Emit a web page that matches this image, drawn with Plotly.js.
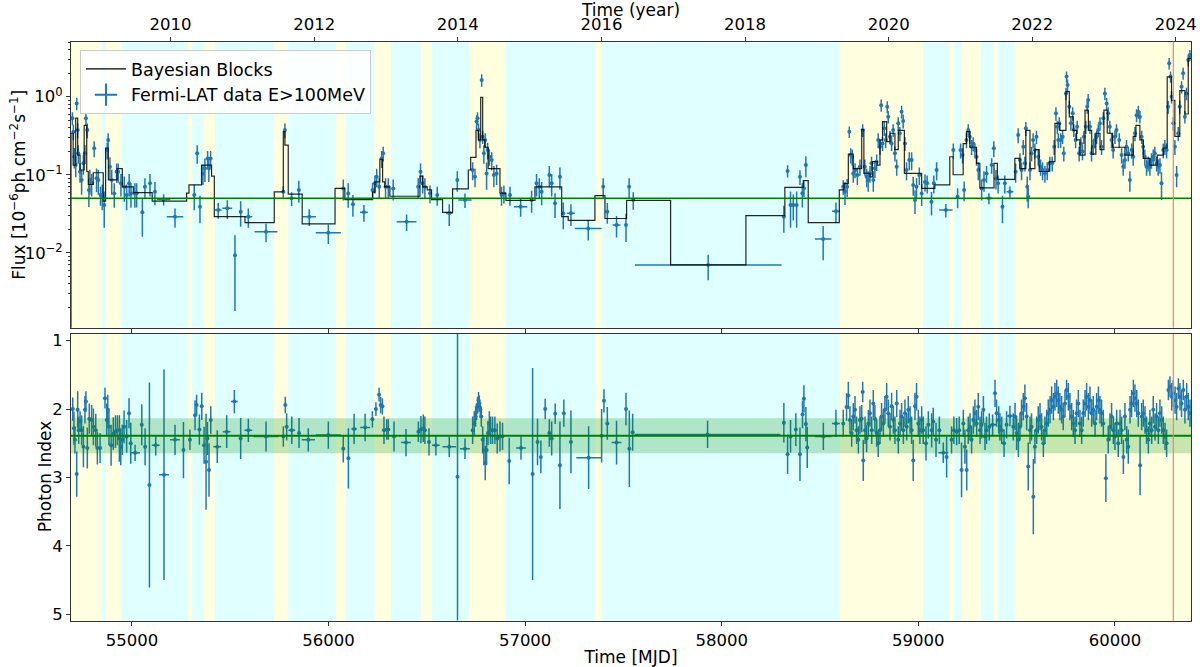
<!DOCTYPE html>
<html>
<head>
<meta charset="utf-8">
<script src="https://cdn.plot.ly/plotly-3.0.1.min.js"></script>
<style>
  html, body { margin: 0; padding: 0; background: #fff; }
  #lightcurve { width: 1200px; height: 667px; }
</style>
</head>
<body>
<div id="lightcurve"></div>
<script>
// adaptive-binned flux points (MJD, 1e-6 ph cm^-2 s^-1)
const fluxMjd = [
  54697, 54702, 54707, 54714, 54719, 54724, 54727, 54736, 54744, 54753,
  54761, 54766, 54773, 54781, 54786, 54795, 54808, 54820, 54829, 54840,
  54849, 54859, 54874, 54879, 54888, 54897, 54910, 54922, 54930, 54944,
  54961, 54973, 54986, 54995, 55015, 55024, 55053, 55066, 55092, 55117,
  55161, 55219, 55317, 55332, 55346, 55361, 55371, 55385, 55391, 55400,
  55439, 55485, 55524, 55553, 55592, 55682, 55770, 55778, 55812, 55849,
  55902, 55999, 56075, 56100, 56124, 56180, 56224, 56236, 56245, 56258,
  56270, 56278, 56290, 56304, 56329, 56397, 56456, 56468, 56479, 56490,
  56516, 56553, 56614, 56655, 56694, 56733, 56745, 56753, 56758, 56763,
  56770, 56779, 56784, 56790, 56797, 56804, 56809, 56818, 56830, 56841,
  56855, 56880, 56892, 56923, 56977, 57033, 57058, 57072, 57084, 57123,
  57135, 57152, 57177, 57194, 57233, 57321, 57397, 57418, 57465, 57513,
  57529, 57550, 57931, 58316, 58335, 58350, 58364, 58381, 58398, 58410,
  58418, 58428, 58516, 58581, 59140, 59359, 59466
];
const flux = [
  0.53, 0.356, 0.17, 0.133, 0.82, 0.374, 0.188, 0.109, 0.0855, 0.14,
  0.188, 0.53, 0.374, 0.0637, 0.0855, 0.0776, 0.218, 0.09, 0.0855, 0.055,
  0.055, 0.041, 0.207, 0.279, 0.127, 0.0855, 0.0577, 0.109, 0.109, 0.0776,
  0.07, 0.055, 0.0776, 0.0577, 0.0577, 0.058, 0.033, 0.07, 0.0776, 0.0606,
  0.0483, 0.029, 0.055, 0.188, 0.0389, 0.104, 0.121, 0.162, 0.121, 0.162,
  0.0353, 0.0371, 0.0093, 0.0336, 0.029, 0.0186, 0.0606, 0.374, 0.0498, 0.0637,
  0.029, 0.018, 0.0667, 0.0577, 0.042, 0.033, 0.0637, 0.0776, 0.094, 0.07,
  0.162, 0.188, 0.07, 0.07, 0.0667, 0.025, 0.07, 0.109, 0.0776, 0.07,
  0.058, 0.055, 0.032, 0.0855, 0.0475, 0.115, 0.094, 0.48, 0.53, 0.374,
  0.279, 1.64, 0.307, 0.188, 0.279, 0.104, 0.207, 0.17, 0.154, 0.099,
  0.104, 0.055, 0.0577, 0.055, 0.0389, 0.0475, 0.0776, 0.07, 0.0606, 0.099,
  0.0776, 0.043, 0.094, 0.032, 0.032, 0.0204, 0.07, 0.0336, 0.0227, 0.0227,
  0.07, 0.0475, 0.00695, 0.029, 0.112, 0.041, 0.041, 0.041, 0.094, 0.058,
  0.067, 0.133, 0.015, 0.034, 0.0353, 0.0498, 0.0606
];
const fluxErr = [
  0.10, 0.08, 0.05, 0.04, 0.15, 0.08, 0.05, 0.03, 0.03, 0.04,
  0.05, 0.10, 0.08, 0.025, 0.03, 0.025, 0.05, 0.03, 0.03, 0.015,
  0.02, 0.02, 0.05, 0.06, 0.04, 0.03, 0.02, 0.03, 0.03, 0.025,
  0.025, 0.02, 0.025, 0.02, 0.02, 0.02, 0.017, 0.02, 0.025, 0.02,
  0.008, 0.008, 0.02, 0.05, 0.015, 0.03, 0.04, 0.04, 0.04, 0.04,
  0.008, 0.01, 0.0075, 0.012, 0.008, 0.005, 0.01, 0.08, 0.01, 0.02,
  0.007, 0.005, 0.02, 0.02, 0.013, 0.008, 0.015, 0.02, 0.025, 0.02,
  0.04, 0.04, 0.02, 0.02, 0.02, 0.006, 0.02, 0.03, 0.02, 0.02,
  0.015, 0.015, 0.01, 0.025, 0.01, 0.03, 0.025, 0.10, 0.10, 0.08,
  0.06, 0.30, 0.06, 0.05, 0.06, 0.04, 0.05, 0.04, 0.04, 0.03,
  0.03, 0.015, 0.015, 0.015, 0.01, 0.015, 0.025, 0.02, 0.02, 0.03,
  0.025, 0.015, 0.03, 0.012, 0.01, 0.006, 0.02, 0.01, 0.007, 0.009,
  0.02, 0.012, 0.0025, 0.011, 0.02, 0.02, 0.015, 0.02, 0.02, 0.02,
  0.015, 0.04, 0.007, 0.01, 0.007, 0.008, 0.01
];
const fluxHalfBin = [
  3, 3, 3, 3, 3, 3, 3, 3, 3, 3,
  3, 3, 3, 3, 3, 3, 3, 3, 3, 3,
  3, 3, 3, 3, 3, 3, 3, 3, 3, 3,
  5, 5, 5, 5, 5, 5, 5, 5, 5, 5,
  34, 42, 5, 5, 5, 5, 5, 5, 5, 5,
  17, 25, 5, 8, 20, 58, 5, 3, 20, 5,
  34, 64, 5, 5, 8, 20, 3, 3, 3, 3,
  3, 3, 3, 5, 10, 50, 5, 3, 3, 3,
  5, 5, 17, 5, 34, 3, 3, 3, 3, 3,
  3, 3, 3, 3, 3, 3, 3, 3, 3, 3,
  3, 5, 5, 5, 34, 5, 5, 5, 5, 5,
  5, 5, 5, 5, 20, 68, 5, 5, 20, 5,
  5, 5, 373, 5, 3, 3, 3, 3, 3, 3,
  3, 3, 42, 20, 34, 17, 17
];

// weekly-binned flux points after 2019
const weeklyMjd = [
  58618, 58627, 58638, 58649, 58656, 58664, 58669, 58678, 58690, 58703,
  58717, 58728, 58737, 58745, 58754, 58762, 58771, 58779, 58788, 58796,
  58805, 58811, 58818, 58827, 58834, 58842, 58847, 58856, 58864, 58872,
  58881, 58890, 58898, 58906, 58915, 58923, 58932, 58940, 58954, 58966,
  58974, 58983, 58991, 59005, 59017, 59034, 59045, 59067, 59079, 59093,
  59178, 59200, 59215, 59225, 59233, 59245, 59254, 59262, 59271, 59279,
  59288, 59296, 59305, 59322, 59334, 59347, 59373, 59384, 59395, 59406,
  59428, 59440, 59495, 59508, 59517, 59525, 59534, 59542, 59547, 59554,
  59559, 59568, 59576, 59584, 59593, 59601, 59610, 59622, 59632, 59644,
  59656, 59669, 59681, 59691, 59700, 59707, 59712, 59717, 59724, 59734,
  59740, 59751, 59754, 59759, 59768, 59776, 59785, 59791, 59800, 59808,
  59818, 59827, 59835, 59842, 59852, 59859, 59864, 59873, 59881, 59890,
  59898, 59907, 59915, 59924, 59932, 59941, 59949, 59958, 59966, 59974,
  59983, 59991, 60000, 60008, 60022, 60034, 60042, 60051, 60059, 60068,
  60076, 60085, 60093, 60102, 60110, 60119, 60127, 60136, 60144, 60152,
  60161, 60169, 60178, 60186, 60195, 60203, 60212, 60220, 60229, 60237,
  60246, 60254, 60263, 60271, 60276, 60283, 60288, 60297, 60305, 60314,
  60322, 60330, 60339, 60347, 60356, 60364, 60373, 60381
];
const weeklyFlux = [
  0.07, 0.061, 0.07, 0.356, 0.179, 0.17, 0.104, 0.115, 0.099, 0.127,
  0.374, 0.127, 0.094, 0.0855, 0.104, 0.14, 0.0855, 0.121, 0.147, 0.279,
  0.229, 0.78, 0.252, 0.393, 0.279, 0.745, 0.555, 0.307, 0.252, 0.374,
  0.188, 0.127, 0.456, 0.339, 0.643, 0.49, 0.252, 0.115, 0.154, 0.154,
  0.074, 0.0475, 0.07, 0.099, 0.0577, 0.081, 0.0776, 0.045, 0.0776, 0.115,
  0.207, 0.0523, 0.207, 0.179, 0.0637, 0.279, 0.374, 0.307, 0.229, 0.252,
  0.207, 0.17, 0.115, 0.0667, 0.0855, 0.104, 0.133, 0.218, 0.0898, 0.0776,
  0.0389, 0.0776, 0.109, 0.323, 0.154, 0.115, 0.229, 0.14, 0.393, 0.07,
  0.0523, 0.115, 0.188, 0.279, 0.207, 0.307, 0.17, 0.127, 0.115, 0.104,
  0.115, 0.14, 0.14, 0.229, 0.612, 0.413, 0.279, 0.456, 0.279, 0.307,
  0.188, 1.1, 1.81, 1.41, 0.745, 0.456, 0.612, 0.374, 0.279, 0.413,
  0.188, 0.252, 0.198, 0.307, 0.413, 0.745, 0.91, 0.413, 0.188, 0.229,
  0.279, 0.307, 0.374, 0.456, 0.229, 0.53, 1.1, 0.82, 0.612, 0.413,
  0.279, 0.207, 0.307, 0.374, 0.279, 0.179, 0.127, 0.154, 0.229, 0.188,
  0.0855, 0.207, 0.17, 0.339, 0.58, 0.643, 0.555, 0.307, 0.229, 0.17,
  0.127, 0.14, 0.127, 0.154, 0.17, 0.188, 0.14, 0.127, 0.133, 0.0776,
  0.207, 0.229, 0.207, 0.745, 2.68, 1.81, 1.0, 0.456, 0.229, 0.099,
  0.339, 0.745, 1.34, 2.0, 0.555, 1.1, 2.96, 3.42
];
const weeklyFluxErr = [
  0.015, 0.02, 0.018, 0.06, 0.04, 0.04, 0.025, 0.025, 0.025, 0.03,
  0.07, 0.03, 0.025, 0.025, 0.025, 0.03, 0.025, 0.03, 0.035, 0.06,
  0.05, 0.14, 0.05, 0.08, 0.06, 0.13, 0.1, 0.06, 0.05, 0.07,
  0.04, 0.03, 0.09, 0.07, 0.12, 0.1, 0.05, 0.03, 0.04, 0.04,
  0.02, 0.016, 0.02, 0.025, 0.018, 0.02, 0.02, 0.015, 0.02, 0.03,
  0.045, 0.015, 0.045, 0.04, 0.018, 0.06, 0.07, 0.06, 0.05, 0.05,
  0.045, 0.04, 0.03, 0.02, 0.025, 0.025, 0.03, 0.05, 0.025, 0.02,
  0.015, 0.02, 0.03, 0.07, 0.035, 0.03, 0.05, 0.03, 0.08, 0.025,
  0.015, 0.03, 0.04, 0.06, 0.045, 0.06, 0.04, 0.03, 0.03, 0.025,
  0.03, 0.03, 0.03, 0.05, 0.12, 0.08, 0.06, 0.09, 0.06, 0.06,
  0.04, 0.2, 0.3, 0.25, 0.14, 0.09, 0.12, 0.07, 0.06, 0.08,
  0.04, 0.05, 0.045, 0.06, 0.08, 0.14, 0.17, 0.08, 0.04, 0.05,
  0.06, 0.06, 0.07, 0.09, 0.05, 0.1, 0.2, 0.15, 0.12, 0.08,
  0.06, 0.045, 0.06, 0.07, 0.06, 0.04, 0.03, 0.035, 0.05, 0.04,
  0.025, 0.045, 0.04, 0.07, 0.11, 0.12, 0.1, 0.06, 0.05, 0.04,
  0.03, 0.03, 0.03, 0.035, 0.04, 0.04, 0.03, 0.03, 0.03, 0.03,
  0.045, 0.05, 0.045, 0.14, 0.45, 0.3, 0.18, 0.09, 0.05, 0.03,
  0.07, 0.14, 0.24, 0.35, 0.1, 0.2, 0.5, 0.55
];
const weeklyHalfBin = 3.5;

// Bayesian blocks: block start (MJD) and block flux; last entry closes the final block
const blockStart = [
  54688, 54690, 54701, 54714, 54724, 54736, 54757, 54770, 54778, 54803,
  54854, 54866, 54880, 54925, 54951, 55007, 55103, 55278, 55290, 55354,
  55405, 55419, 55575, 55724, 55770, 55778, 55795, 55866, 56033, 56083,
  56224, 56236, 56261, 56275, 56286, 56312, 56465, 56479, 56502, 56524,
  56580, 56631, 56711, 56723, 56750, 56762, 56774, 56784, 56795, 56812,
  56872, 56902, 57050, 57186, 57219, 57355, 57406, 57516, 57740, 58123,
  58321, 58415, 58440, 58598, 58622, 58644, 58669, 58712, 58723, 58754,
  58766, 58791, 58805, 58818, 58839, 58856, 58881, 58898, 58929, 59017,
  59084, 59160, 59177, 59228, 59245, 59262, 59296, 59313, 59385, 59402,
  59491, 59517, 59547, 59568, 59593, 59615, 59666, 59695, 59720, 59751,
  59768, 59788, 59805, 59822, 59848, 59865, 59882, 59903, 59924, 59944,
  59961, 59988, 60051, 60093, 60107, 60127, 60144, 60178, 60215, 60246,
  60266, 60288, 60305, 60330, 60356, 60373, 60387
];
const blockFlux = [
  0.0001, 0.34, 0.133, 0.53, 0.178, 0.115, 0.43, 0.11, 0.075, 0.106,
  0.046, 0.22, 0.086, 0.12, 0.07, 0.059, 0.046, 0.058, 0.074, 0.133,
  0.096, 0.029, 0.0243, 0.0605, 0.356, 0.24, 0.0565, 0.0235, 0.067, 0.048,
  0.06, 0.081, 0.158, 0.081, 0.07, 0.053, 0.096, 0.07, 0.064, 0.048,
  0.033, 0.066, 0.115, 0.167, 0.37, 0.28, 0.98, 0.28, 0.225, 0.12,
  0.058, 0.047, 0.07, 0.029, 0.026, 0.054, 0.0275, 0.047, 0.007, 0.03,
  0.069, 0.084, 0.0243, 0.064, 0.077, 0.184, 0.12, 0.38, 0.104, 0.094,
  0.147, 0.133, 0.28, 0.48, 0.265, 0.34, 0.21, 0.37, 0.104, 0.067,
  0.074, 0.17, 0.1, 0.25, 0.356, 0.225, 0.14, 0.068, 0.14, 0.087,
  0.162, 0.12, 0.37, 0.12, 0.21, 0.11, 0.147, 0.455, 0.37, 1.16,
  0.55, 0.37, 0.28, 0.178, 0.675, 0.37, 0.184, 0.34, 0.21, 0.675,
  0.34, 0.225, 0.178, 0.31, 0.43, 0.28, 0.162, 0.133, 0.178, 0.22,
  1.8, 0.9, 0.31, 1.2, 0.6, 3.1, 3.1
];

// photon index, adaptive bins
const indexMjd = [
  54699, 54705, 54710, 54719, 54724, 54729, 54736, 54744, 54753, 54761,
  54766, 54773, 54783, 54795, 54804, 54816, 54824, 54838, 54863, 54872,
  54877, 54883, 54894, 54905, 54916, 54926, 54936, 54943, 54951, 54960,
  54973, 54985, 54994, 55016, 55050, 55067, 55089, 55121, 55163, 55219,
  55262, 55295, 55321, 55329, 55343, 55355, 55367, 55377, 55384, 55392,
  55401, 55434, 55482, 55521, 55553, 55592, 55682, 55770, 55780, 55787,
  55813, 55850, 55897, 55999, 56075, 56101, 56130, 56186, 56223, 56241,
  56257, 56265, 56274, 56282, 56296, 56304, 56333, 56394, 56457, 56470,
  56482, 56490, 56511, 56546, 56614, 56656, 56694, 56733, 56741, 56748,
  56753, 56758, 56763, 56767, 56772, 56777, 56784, 56790, 56797, 56804,
  56811, 56818, 56824, 56834, 56846, 56858, 56872, 56885, 56919, 56979,
  57038, 57063, 57080, 57102, 57123, 57135, 57153, 57177, 57197, 57233,
  57323, 57389, 57401, 57418, 57465, 57513, 57530, 57547, 57928, 58316,
  58335, 58350, 58377, 58398, 58411, 58418, 58428, 58435, 58517, 58581,
  59127, 59378, 59466
];
const photonIndex = [
  2.00, 2.28, 2.45, 2.95, 2.01, 2.31, 2.18, 2.31, 2.55, 2.01,
  1.89, 2.57, 2.14, 2.16, 2.26, 2.31, 2.57, 2.57, 1.84, 2.16,
  2.01, 2.26, 2.53, 2.36, 2.33, 2.31, 2.43, 2.55, 2.45, 2.26,
  2.40, 2.06, 2.50, 2.64, 2.23, 2.55, 3.11, 2.53, 2.96, 2.45,
  2.60, 2.45, 2.09, 1.94, 2.30, 1.96, 2.53, 2.77, 2.43, 2.89,
  2.16, 2.55, 2.33, 1.89, 2.43, 2.31, 2.40, 2.40, 1.94, 2.26,
  2.31, 2.35, 2.45, 2.38, 2.58, 2.72, 2.29, 2.27, 2.15, 2.00,
  1.79, 1.94, 1.96, 2.31, 2.30, 2.30, 2.40, 2.49, 2.33, 2.30,
  2.28, 2.31, 2.48, 2.53, 2.55, 2.99, 2.58, 2.31, 2.21, 2.11,
  2.04, 1.94, 1.87, 1.92, 2.01, 2.11, 2.45, 2.60, 2.79, 2.60,
  2.35, 2.21, 2.31, 2.31, 2.31, 2.43, 2.40, 2.40, 2.76, 2.57,
  2.95, 2.48, 2.70, 2.00, 2.35, 2.43, 2.07, 2.82, 2.06, 2.48,
  2.71, 2.39, 1.88, 2.21, 2.49, 2.00, 2.58, 2.34, 2.37, 2.20,
  2.66, 2.40, 2.30, 2.66, 2.08, 1.85, 2.22, 2.56, 2.40, 2.21,
  2.64, 2.23, 2.10
];
const photonIndexErr = [
  0.17, 0.24, 0.20, 0.33, 0.27, 0.20, 0.15, 0.22, 0.30, 0.20,
  0.15, 0.30, 0.22, 0.22, 0.27, 0.24, 0.24, 0.22, 0.15, 0.24,
  0.22, 0.27, 0.30, 0.24, 0.24, 0.22, 0.34, 0.27, 0.22, 0.24,
  0.24, 0.22, 0.30, 0.12, 0.30, 0.27, 1.50, 0.15, 1.54, 0.22,
  0.41, 0.15, 0.22, 0.15, 0.22, 0.20, 0.27, 0.70, 0.24, 0.39,
  0.20, 0.24, 0.24, 0.17, 0.30, 0.17, 0.22, 0.15, 0.12, 0.20,
  0.20, 0.22, 0.17, 0.20, 0.20, 0.44, 0.22, 0.20, 0.12, 0.10,
  0.10, 0.12, 0.12, 0.20, 0.15, 0.15, 0.22, 0.20, 0.15, 0.20,
  0.20, 0.20, 0.20, 0.15, 0.15, 2.10, 0.15, 0.20, 0.18, 0.15,
  0.12, 0.12, 0.12, 0.12, 0.12, 0.15, 0.20, 0.22, 0.25, 0.22,
  0.18, 0.18, 0.20, 0.20, 0.20, 0.22, 0.22, 0.20, 0.34, 0.17,
  1.55, 0.34, 0.24, 0.15, 0.20, 0.25, 0.15, 0.64, 0.20, 0.46,
  0.46, 0.39, 0.17, 0.24, 0.32, 0.24, 0.56, 0.27, 0.20, 0.29,
  0.29, 0.24, 0.24, 0.39, 0.20, 0.20, 0.25, 0.30, 0.20, 0.20,
  0.15, 0.15, 0.15
];
const indexHalfBin = [
  3, 3, 3, 3, 3, 3, 3, 3, 3, 3,
  3, 3, 3, 3, 3, 3, 3, 3, 3, 3,
  3, 3, 3, 3, 3, 3, 3, 3, 3, 3,
  3, 3, 3, 25, 3, 3, 3, 20, 25, 25,
  3, 3, 3, 3, 3, 3, 3, 3, 3, 3,
  3, 20, 20, 17, 3, 20, 64, 3, 3, 3,
  17, 3, 34, 64, 3, 3, 14, 25, 3, 3,
  3, 3, 3, 3, 3, 3, 3, 25, 3, 3,
  3, 3, 3, 20, 34, 3, 25, 3, 3, 3,
  3, 3, 3, 3, 3, 3, 3, 3, 3, 3,
  3, 3, 3, 3, 3, 3, 3, 3, 3, 25,
  3, 3, 3, 3, 3, 3, 3, 3, 3, 3,
  63, 3, 3, 3, 25, 3, 3, 3, 370, 3,
  3, 3, 3, 3, 3, 3, 3, 3, 42, 20,
  25, 17, 17
];

// photon index, weekly bins after 2019
const weeklyIndexMjd = [
  58618, 58635, 58644, 58652, 58661, 58669, 58678, 58686, 58695, 58703,
  58712, 58717, 58720, 58729, 58737, 58746, 58754, 58763, 58771, 58779,
  58788, 58796, 58805, 58813, 58822, 58830, 58839, 58847, 58856, 58864,
  58873, 58881, 58890, 58898, 58907, 58915, 58924, 58932, 58941, 58949,
  58958, 58966, 58974, 58983, 58991, 59000, 59008, 59017, 59025, 59039,
  59051, 59068, 59076, 59090, 59107, 59144, 59169, 59181, 59195, 59208,
  59220, 59229, 59237, 59246, 59254, 59263, 59271, 59280, 59288, 59297,
  59305, 59314, 59322, 59331, 59339, 59347, 59361, 59390, 59398, 59409,
  59415, 59424, 59436, 59449, 59483, 59492, 59500, 59509, 59517, 59525,
  59534, 59542, 59551, 59559, 59568, 59576, 59585, 59593, 59602, 59610,
  59619, 59627, 59636, 59644, 59653, 59661, 59670, 59678, 59687, 59695,
  59704, 59712, 59720, 59729, 59737, 59746, 59754, 59763, 59771, 59780,
  59788, 59797, 59805, 59814, 59822, 59831, 59839, 59848, 59856, 59865,
  59873, 59882, 59890, 59899, 59907, 59916, 59924, 59932, 59941, 59954,
  59966, 59975, 59983, 59992, 60000, 60009, 60017, 60026, 60034, 60043,
  60051, 60060, 60068, 60077, 60085, 60094, 60102, 60111, 60119, 60128,
  60136, 60144, 60153, 60161, 60170, 60178, 60187, 60195, 60204, 60212,
  60221, 60229, 60238, 60246, 60255, 60263, 60272, 60280, 60289, 60297,
  60306, 60314, 60323, 60331, 60339, 60348, 60356, 60365, 60373, 60382
];
const weeklyIndex = [
  2.21, 1.97, 1.80, 2.16, 2.35, 2.11, 2.01, 2.31, 2.45, 2.16,
  2.14, 1.75, 2.75, 2.31, 2.43, 2.21, 2.06, 2.31, 1.92, 2.14,
  2.35, 2.50, 2.31, 2.11, 2.21, 2.01, 1.82, 2.06, 2.26, 1.96,
  2.16, 2.31, 1.92, 2.45, 2.21, 2.11, 2.31, 2.06, 2.26, 2.01,
  2.16, 2.31, 2.75, 1.96, 1.82, 2.21, 2.31, 2.16, 2.31, 2.50,
  2.23, 2.31, 2.18, 2.45, 2.31, 2.70, 2.45, 2.31, 2.33, 2.31,
  2.89, 2.21, 2.55, 2.89, 2.31, 2.26, 2.45, 2.16, 2.06, 2.21,
  1.965, 2.31, 2.23, 2.01, 2.40, 2.31, 2.26, 1.77, 2.06, 2.16,
  2.26, 2.31, 2.50, 2.23, 2.26, 2.11, 2.35, 2.45, 2.26, 2.06,
  1.965, 1.84, 2.11, 2.84, 2.31, 2.26, 3.28, 2.55, 2.31, 2.16,
  2.11, 2.26, 2.50, 2.31, 2.21, 2.06, 2.01, 1.87, 1.965, 1.82,
  1.77, 1.87, 1.965, 2.01, 2.11, 1.92, 1.72, 1.82, 1.965, 2.11,
  2.21, 2.31, 2.06, 1.92, 2.21, 2.31, 2.06, 1.92, 1.82, 1.965,
  1.87, 2.06, 2.01, 2.21, 1.965, 1.87, 2.01, 2.06, 2.21, 3.01,
  2.45, 2.26, 2.11, 2.31, 2.40, 2.21, 2.50, 2.21, 2.31, 2.70,
  2.11, 2.45, 2.55, 2.01, 1.92, 1.77, 1.84, 1.92, 2.06, 2.82,
  2.11, 2.06, 2.16, 2.31, 2.45, 2.21, 2.31, 2.01, 2.26, 2.11,
  2.31, 2.06, 2.16, 2.31, 2.40, 2.50, 1.72, 1.67, 1.82, 1.77,
  1.87, 1.965, 1.70, 1.82, 1.92, 1.72, 2.01, 1.82, 1.965, 2.06
];
const weeklyIndexErr = [
  0.2, 0.2, 0.2, 0.2, 0.2, 0.2, 0.2, 0.2, 0.2, 0.2,
  0.2, 0.15, 0.3, 0.2, 0.2, 0.2, 0.2, 0.2, 0.2, 0.2,
  0.2, 0.2, 0.2, 0.2, 0.2, 0.2, 0.2, 0.2, 0.2, 0.2,
  0.2, 0.2, 0.2, 0.2, 0.2, 0.2, 0.2, 0.2, 0.2, 0.2,
  0.2, 0.2, 0.3, 0.2, 0.2, 0.2, 0.2, 0.2, 0.2, 0.25,
  0.2, 0.25, 0.2, 0.25, 0.2, 0.3, 0.2, 0.2, 0.2, 0.2,
  0.4, 0.2, 0.25, 0.3, 0.2, 0.2, 0.2, 0.2, 0.2, 0.2,
  0.2, 0.2, 0.2, 0.2, 0.2, 0.2, 0.2, 0.2, 0.2, 0.2,
  0.2, 0.2, 0.2, 0.2, 0.2, 0.2, 0.25, 0.25, 0.2, 0.2,
  0.2, 0.2, 0.2, 0.35, 0.2, 0.2, 0.55, 0.25, 0.2, 0.2,
  0.2, 0.2, 0.2, 0.2, 0.2, 0.2, 0.2, 0.2, 0.2, 0.2,
  0.2, 0.2, 0.2, 0.2, 0.2, 0.2, 0.15, 0.2, 0.2, 0.2,
  0.2, 0.2, 0.2, 0.2, 0.2, 0.2, 0.2, 0.2, 0.2, 0.2,
  0.2, 0.2, 0.2, 0.2, 0.2, 0.2, 0.2, 0.2, 0.2, 0.35,
  0.2, 0.2, 0.2, 0.2, 0.2, 0.2, 0.2, 0.2, 0.2, 0.25,
  0.2, 0.2, 0.25, 0.2, 0.2, 0.2, 0.2, 0.2, 0.2, 0.44,
  0.2, 0.2, 0.2, 0.2, 0.2, 0.2, 0.2, 0.2, 0.2, 0.2,
  0.2, 0.2, 0.2, 0.2, 0.2, 0.2, 0.15, 0.15, 0.2, 0.2,
  0.2, 0.2, 0.15, 0.2, 0.2, 0.15, 0.2, 0.2, 0.2, 0.2
];

// activity states shading both panels
const stateEdges = [
  54690, 54847, 54870, 54948, 55285, 55306, 55366, 55421, 55724, 55795,
  56038, 56089, 56234, 56317, 56470, 56526, 56716, 56902, 57359, 57392,
  58601, 59023, 59158, 59183, 59221, 59318, 59386, 59407, 59491, 60387
];
const stateKind = [
  'high', 'low', 'high', 'low', 'high', 'low', 'high', 'low', 'high', 'low',
  'high', 'low', 'high', 'low', 'high', 'low', 'high', 'low', 'high', 'low',
  'high', 'low', 'high', 'low', 'high', 'low', 'high', 'low', 'high'
];

const fluxMean = 0.05;
const indexMean = 2.39;
const indexSpread = 0.255;
const markerMjd = 60297;
const mjdTicks = [55000, 56000, 57000, 58000, 59000, 60000];
const yearTicks = [2010, 2012, 2014, 2016, 2018, 2020, 2022, 2024];

const MJD_MIN = 54690;
const MJD_MAX = 60387;
const BLUE = '#1f77b4';
const FONT = 'DejaVu Sans, sans-serif';

function mjdToYear(mjd) {
  return 2000 + (mjd - 51544) / 365.25;
}

function renderLightCurve() {
  const container = document.getElementById('lightcurve');

  const pointStyle = {
    type: 'scatter',
    mode: 'markers',
    marker: { color: BLUE, size: 4 },
    hoverinfo: 'skip',
    showlegend: false,
  };

  const traces = [
    {
      ...pointStyle,
      x: fluxMjd,
      y: flux,
      error_y: { type: 'data', array: fluxErr, color: BLUE, thickness: 1.5, width: 0 },
      error_x: { type: 'data', array: fluxHalfBin, color: BLUE, thickness: 1.5, width: 0 },
      xaxis: 'x',
      yaxis: 'y',
    },
    {
      ...pointStyle,
      x: weeklyMjd,
      y: weeklyFlux,
      error_y: { type: 'data', array: weeklyFluxErr, color: BLUE, thickness: 1.5, width: 0 },
      error_x: { type: 'constant', value: weeklyHalfBin, color: BLUE, thickness: 1.5, width: 0 },
      xaxis: 'x',
      yaxis: 'y',
    },
    {
      type: 'scatter',
      mode: 'lines',
      x: blockStart,
      y: blockFlux,
      line: { shape: 'hv', color: 'rgba(0,0,0,0.85)', width: 1.2 },
      hoverinfo: 'skip',
      showlegend: false,
      xaxis: 'x',
      yaxis: 'y',
    },
    {
      type: 'scatter',
      mode: 'lines',
      x: [MJD_MIN, MJD_MAX],
      y: [fluxMean, fluxMean],
      line: { color: '#008000', width: 1.6 },
      hoverinfo: 'skip',
      showlegend: false,
      xaxis: 'x',
      yaxis: 'y',
    },
    {
      ...pointStyle,
      x: indexMjd,
      y: photonIndex,
      error_y: { type: 'data', array: photonIndexErr, color: BLUE, thickness: 1.5, width: 0 },
      error_x: { type: 'data', array: indexHalfBin, color: BLUE, thickness: 1.5, width: 0 },
      xaxis: 'x2',
      yaxis: 'y2',
    },
    {
      ...pointStyle,
      x: weeklyIndexMjd,
      y: weeklyIndex,
      error_y: { type: 'data', array: weeklyIndexErr, color: BLUE, thickness: 1.5, width: 0 },
      error_x: { type: 'constant', value: weeklyHalfBin, color: BLUE, thickness: 1.5, width: 0 },
      xaxis: 'x2',
      yaxis: 'y2',
    },
    // carries the calendar-year axis on top
    {
      type: 'scatter',
      mode: 'markers',
      x: [mjdToYear(MJD_MIN)],
      y: [fluxMean],
      marker: { opacity: 0 },
      hoverinfo: 'skip',
      showlegend: false,
      xaxis: 'x3',
      yaxis: 'y',
    },
    // legend entries
    {
      type: 'scatter',
      mode: 'lines',
      name: 'Bayesian Blocks',
      x: [null],
      y: [null],
      line: { color: '#000', width: 1.2 },
    },
    {
      type: 'scatter',
      mode: 'markers',
      name: 'Fermi-LAT data E&gt;100MeV',
      x: [null],
      y: [null],
      marker: { symbol: 'cross-thin', size: 16, color: BLUE, line: { color: BLUE, width: 2 } },
    },
  ];

  const shapes = [];
  for (let i = 0; i < stateKind.length; i++) {
    const fill = stateKind[i] === 'high' ? '#ffffe0' : '#e0ffff';
    [['x', 'y domain'], ['x2', 'y2 domain']].forEach(([xr, yr]) => {
      shapes.push({
        type: 'rect', xref: xr, yref: yr, layer: 'below',
        x0: stateEdges[i], x1: stateEdges[i + 1], y0: 0, y1: 1,
        fillcolor: fill, line: { width: 0 },
      });
    });
  }
  shapes.push({
    type: 'rect', xref: 'x2 domain', yref: 'y2', layer: 'above',
    x0: 0, x1: 1, y0: indexMean - indexSpread, y1: indexMean + indexSpread,
    fillcolor: 'rgba(0,140,0,0.22)', line: { width: 0 },
  });
  shapes.push({
    type: 'line', xref: 'x2 domain', yref: 'y2', layer: 'above',
    x0: 0, x1: 1, y0: indexMean, y1: indexMean,
    line: { color: '#008000', width: 2 },
  });
  [['x', 'y domain'], ['x2', 'y2 domain']].forEach(([xr, yr]) => {
    shapes.push({
      type: 'line', xref: xr, yref: yr, layer: 'above',
      x0: markerMjd, x1: markerMjd, y0: 0, y1: 1,
      line: { color: '#f08080', width: 1.2 },
    });
  });

  const minorLog = [];
  [0.001, 0.01, 0.1, 1].forEach((decade) => {
    for (let k = 2; k <= 9; k++) minorLog.push(decade * k);
  });

  const titleFont = { family: FONT, size: 17, color: '#000' };
  const axisBase = {
    showline: true,
    linecolor: '#333',
    linewidth: 1,
    mirror: true,
    ticks: 'outside',
    ticklen: 4,
    tickwidth: 1,
    tickcolor: '#333',
    showgrid: false,
    zeroline: false,
    tickfont: { family: FONT, size: 16.5, color: '#000' },
  };

  // y-axis titles placed as rotated labels, matching the reference offsets
  const annotations = [
    {
      text: 'Flux [10<sup>−6</sup>ph cm<sup>−2</sup>s<sup>−1</sup>]',
      xref: 'paper', yref: 'paper', x: -0.0473, y: 0.723,
      xanchor: 'center', yanchor: 'middle', textangle: -90,
      showarrow: false, font: titleFont,
    },
    {
      text: 'Photon Index',
      xref: 'paper', yref: 'paper', x: -0.0232, y: 0.2846,
      xanchor: 'center', yanchor: 'middle', textangle: -90,
      showarrow: false, font: titleFont,
    },
  ];

  const layout = {
    width: 1200,
    height: 667,
    margin: { l: 71, r: 9, t: 0, b: 0 },
    paper_bgcolor: '#fff',
    plot_bgcolor: '#fff',
    font: { family: FONT, size: 16, color: '#000' },
    showlegend: true,
    legend: {
      x: 0.008,
      y: 0.925,
      xanchor: 'left',
      yanchor: 'top',
      itemwidth: 40,
      bgcolor: 'rgba(255,255,255,0.85)',
      bordercolor: '#cccccc',
      borderwidth: 1,
      font: { family: FONT, size: 17.5, color: '#000' },
    },
    xaxis: {
      ...axisBase,
      domain: [0, 1],
      anchor: 'y',
      range: [MJD_MIN, MJD_MAX],
      tickmode: 'array',
      tickvals: mjdTicks,
      showticklabels: false,
    },
    yaxis: {
      ...axisBase,
      domain: [0.5087, 0.9375],
      anchor: 'x',
      type: 'log',
      range: [-2.96, 0.705],
      tickmode: 'array',
      tickvals: [0.01, 0.1, 1],
      ticktext: ['10<sup>−2</sup>', '10<sup>−1</sup>', '10<sup>0</sup>'],
      minor: { tickmode: 'array', tickvals: minorLog, ticks: 'outside', ticklen: 2.5, tickcolor: '#333' },
    },
    xaxis2: {
      ...axisBase,
      domain: [0, 1],
      anchor: 'y2',
      range: [MJD_MIN, MJD_MAX],
      tickmode: 'array',
      tickvals: mjdTicks,
      ticktext: mjdTicks.map(String),
      title: { text: 'Time [MJD]', font: titleFont, standoff: 3 },
    },
    yaxis2: {
      ...axisBase,
      domain: [0.0694, 0.4993],
      anchor: 'x2',
      range: [5.094, 0.902],
      tickmode: 'array',
      tickvals: [1, 2, 3, 4, 5],
    },
    xaxis3: {
      ...axisBase,
      mirror: false,
      overlaying: 'x',
      anchor: 'y',
      side: 'top',
      range: [mjdToYear(MJD_MIN), mjdToYear(MJD_MAX)],
      tickmode: 'array',
      tickvals: yearTicks,
      ticktext: yearTicks.map(String),
      title: { text: 'Time (year)', font: titleFont, standoff: 0 },
    },
    annotations,
    shapes,
  };

  Plotly.newPlot(container, traces, layout, { displayModeBar: false, staticPlot: true });
}

renderLightCurve();
</script>
</body>
</html>
